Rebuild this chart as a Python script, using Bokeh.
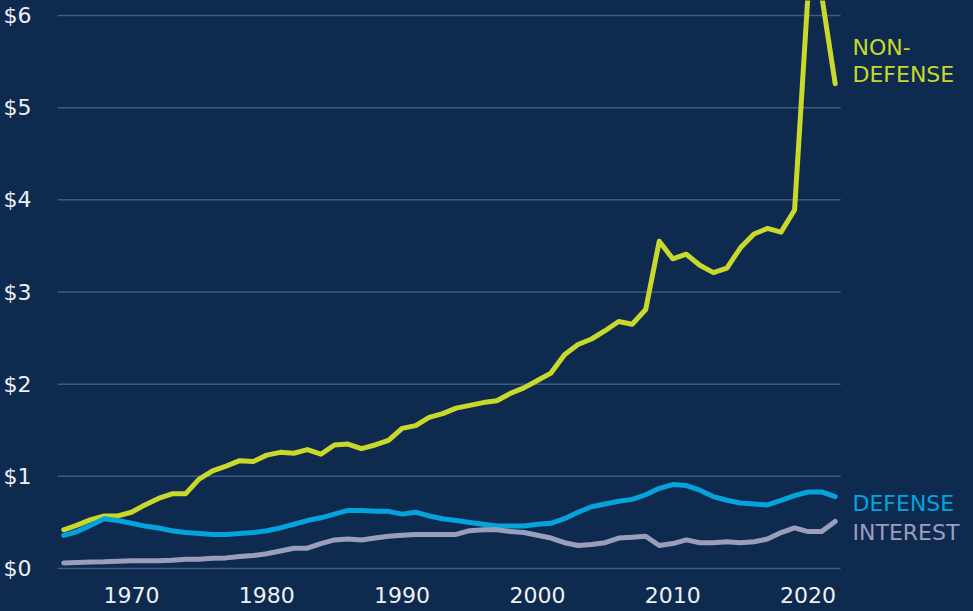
from bokeh.plotting import figure
from bokeh.models import (ColumnDataSource, FixedTicker, NumeralTickFormatter, Label,
                          Range1d, GlobalInlineStyleSheet)
from bokeh.embed import file_html
from bokeh.resources import INLINE

years = list(range(1965, 2023))

non_defense = [0.42, 0.47, 0.53, 0.57, 0.57, 0.61, 0.69, 0.76, 0.81, 0.81,
               0.97, 1.06, 1.11, 1.17, 1.16, 1.23, 1.26, 1.25, 1.29, 1.24,
               1.34, 1.35, 1.30, 1.34, 1.39, 1.52, 1.55, 1.64, 1.68, 1.74,
               1.77, 1.80, 1.82, 1.90, 1.96, 2.04, 2.12, 2.32, 2.43, 2.49,
               2.58, 2.68, 2.65, 2.81, 3.55, 3.36, 3.41, 3.29, 3.21, 3.26,
               3.48, 3.63, 3.69, 3.65, 3.89, 6.25, 6.22, 5.26]

defense = [0.36, 0.40, 0.47, 0.54, 0.52, 0.49, 0.46, 0.44, 0.41, 0.39,
           0.38, 0.37, 0.37, 0.38, 0.39, 0.41, 0.44, 0.48, 0.52, 0.55,
           0.59, 0.63, 0.63, 0.62, 0.62, 0.59, 0.61, 0.57, 0.54, 0.52,
           0.50, 0.48, 0.46, 0.46, 0.46, 0.48, 0.49, 0.54, 0.61, 0.67,
           0.70, 0.73, 0.75, 0.80, 0.87, 0.91, 0.90, 0.85, 0.78, 0.74,
           0.71, 0.70, 0.69, 0.74, 0.79, 0.83, 0.83, 0.78]

interest = [0.060, 0.065, 0.070, 0.072, 0.078, 0.085, 0.085, 0.085, 0.090, 0.100,
            0.100, 0.110, 0.115, 0.130, 0.140, 0.160, 0.190, 0.220, 0.220, 0.270,
            0.310, 0.320, 0.310, 0.330, 0.350, 0.360, 0.370, 0.370, 0.370, 0.370,
            0.410, 0.420, 0.420, 0.400, 0.390, 0.360, 0.330, 0.280, 0.250, 0.260,
            0.280, 0.330, 0.340, 0.350, 0.250, 0.270, 0.310, 0.280, 0.280, 0.290,
            0.280, 0.290, 0.320, 0.390, 0.440, 0.400, 0.400, 0.510]

y_ticks = [0, 1, 2, 3, 4, 5, 6]
x_ticks = [1970, 1980, 1990, 2000, 2010, 2020]

BG = "#0E2A4F"
GRID = "#3F5A7E"
TXT = "#EEF1F5"
C_ND = "#C8D92B"
C_DEF = "#05A3DC"
C_INT = "#9B9EBB"
FONT = "DejaVu Sans"

X0, X_GRID_END, X_END = 1964.54, 2022.4, 2032.22

src = ColumnDataSource(dict(year=years, nd=non_defense, df=defense, it=interest))
grid_src = ColumnDataSource(dict(y=y_ticks, x0=[X0] * len(y_ticks),
                                 x1=[X_GRID_END] * len(y_ticks)))

p = figure(width=973, height=611, output_backend="svg", toolbar_location=None,
           x_range=Range1d(X0, X_END), y_range=Range1d(-0.087, 6.163),
           min_border_left=56, min_border_right=0, min_border_top=0,
           min_border_bottom=35)
p.stylesheets = [GlobalInlineStyleSheet(css=f"body{{background-color:{BG};}}")]

p.background_fill_color = BG
p.border_fill_color = BG
p.outline_line_color = None

p.xgrid.grid_line_color = None
p.ygrid.grid_line_color = None

for ax in (p.xaxis[0], p.yaxis[0]):
    ax.axis_line_color = None
    ax.major_tick_line_color = None
    ax.minor_tick_line_color = None
    ax.major_label_text_color = TXT
    ax.major_label_text_font = FONT
    ax.major_label_text_font_size = "22px"
    ax.major_label_text_font_style = "normal"

p.yaxis.ticker = FixedTicker(ticks=y_ticks)
p.yaxis.formatter = NumeralTickFormatter(format="$0")
p.yaxis.major_label_standoff = 20
p.xaxis.ticker = FixedTicker(ticks=x_ticks)
p.xaxis.major_label_standoff = 4

# horizontal gridlines at the y ticks, ending where the data ends
p.segment(x0="x0", y0="y", x1="x1", y1="y", source=grid_src,
          line_color=GRID, line_width=1.5)

p.line("year", "nd", source=src, line_color=C_ND, line_width=5,
       line_join="round", line_cap="round")
p.line("year", "df", source=src, line_color=C_DEF, line_width=5,
       line_join="round", line_cap="round")
p.line("year", "it", source=src, line_color=C_INT, line_width=5,
       line_join="round", line_cap="round")

lab_x = 2023.28
for txt, yv, col in [("NON-", 5.657, C_ND), ("DEFENSE", 5.36, C_ND),
                     ("DEFENSE", 0.705, C_DEF), ("INTEREST", 0.39, C_INT)]:
    p.add_layout(Label(x=lab_x, y=yv, text=txt, text_color=col, text_font=FONT,
                       text_font_size="22px", text_baseline="alphabetic",
                       text_align="left"))

open("out.html", "w").write(file_html(p, INLINE))
